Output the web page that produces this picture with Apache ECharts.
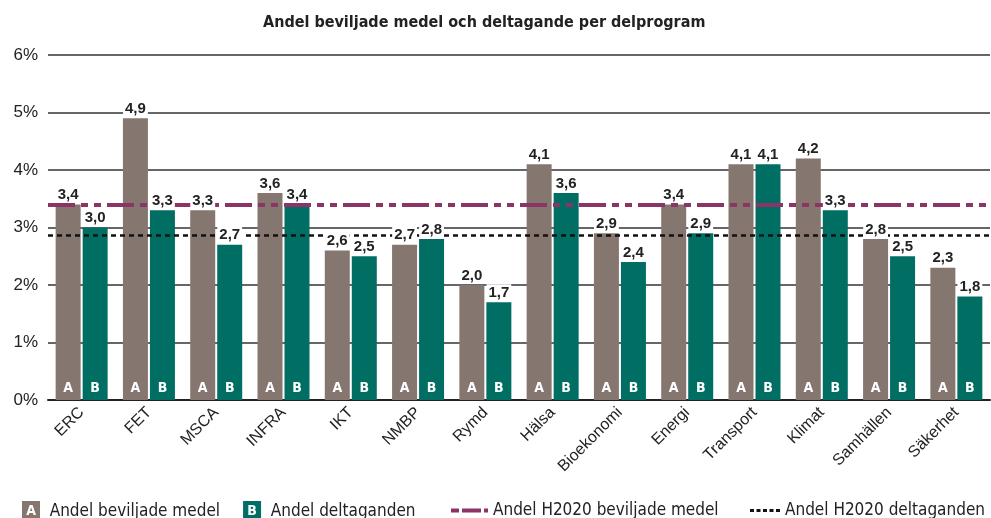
<!DOCTYPE html>
<html>
<head>
<meta charset="utf-8">
<script src="https://cdn.jsdelivr.net/npm/echarts@6/dist/echarts.min.js"></script>
<style>
  html, body { margin: 0; padding: 0; background: #fff; }
  #chart { width: 991px; height: 518px; }
</style>
</head>
<body>
<div id="chart"></div>
<script>
// delprogram
const categories = ["ERC", "FET", "MSCA", "INFRA", "IKT", "NMBP", "Rymd", "Hälsa", "Bioekonomi", "Energi", "Transport", "Klimat", "Samhällen", "Säkerhet"];
// A: andel beviljade medel (%)
const medel = [3.4, 4.9, 3.3, 3.6, 2.6, 2.7, 2.0, 4.1, 2.9, 3.4, 4.1, 4.2, 2.8, 2.3];
// B: andel deltaganden (%)
const deltaganden = [3.0, 3.3, 2.7, 3.4, 2.5, 2.8, 1.7, 3.6, 2.4, 2.9, 4.1, 3.3, 2.5, 1.8];
// H2020 reference levels
const h2020Medel = 3.39;
const h2020Deltaganden = 2.86;
const yTicks = [0, 1, 2, 3, 4, 5, 6];

const colA = "#857770";
const colB = "#006e63";
const colLine = "#8b3567";
const narrow = '"Liberation Sans Narrow", "DejaVu Sans Condensed", sans-serif';
const sans = '"Liberation Sans", Arial, sans-serif';

const chart = echarts.init(document.getElementById("chart"));

const fmt = (p) => p.value.toFixed(1).replace(".", ",");

function letterLabel(txt) {
  return {
    show: true,
    position: "insideBottom",
    distance: 5,
    formatter: txt,
    color: "#fff",
    fontFamily: narrow,
    fontWeight: "bold",
    fontSize: 14,
  };
}

const valueLabel = {
  show: true,
  position: "top",
  distance: 2,
  formatter: fmt,
  color: "#222",
  fontFamily: sans,
  fontWeight: "bold",
  fontSize: 15,
  backgroundColor: "#fff",
  padding: [1, 2, 0, 2],
};

const legendText = { fontFamily: narrow, fontSize: 17, color: "#222" };

const option = {
  animation: false,
  title: {
    text: "Andel beviljade medel och deltagande per delprogram",
    left: 258,
    top: 10,
    textStyle: { fontFamily: narrow, fontWeight: "bold", fontSize: 16, color: "#222" },
  },
  grid: { left: 48, right: 1, top: 55, bottom: 118 },
  legend: [
    {
      left: 12,
      top: 496,
      itemWidth: 0,
      itemHeight: 0,
      itemGap: 18,
      data: ["Andel beviljade medel", "Andel deltaganden"],
      formatter: (name) => (name === "Andel beviljade medel" ? "{a|A}" : "{b|B}") + "  " + name,
      textStyle: {
        ...legendText,
        rich: {
          a: { backgroundColor: colA, color: "#fff", width: 18, height: 21, align: "center", fontWeight: "bold", fontFamily: narrow, fontSize: 14 },
          b: { backgroundColor: colB, color: "#fff", width: 18, height: 21, align: "center", fontWeight: "bold", fontFamily: narrow, fontSize: 14 },
        },
      },
    },
    {
      left: 446,
      top: 497,
      itemWidth: 37,
      itemHeight: 4,
      icon: "path://M0,0H8V4H0Z M11,0H30V4H11Z M33,0H37V4H33Z",
      lineStyle: { width: 0 },
      data: ["Andel H2020 beviljade medel"],
      textStyle: legendText,
    },
    {
      left: 745,
      top: 497,
      itemWidth: 30,
      itemHeight: 3,
      icon: "path://M0,0H4V3H0Z M6.5,0H10.5V3H6.5Z M13,0H17V3H13Z M19.5,0H23.5V3H19.5Z M26,0H30V3H26Z",
      lineStyle: { width: 0 },
      data: ["Andel H2020 deltaganden"],
      textStyle: legendText,
    },
  ],
  xAxis: [
    {
      type: "category",
      data: categories,
      axisLine: { lineStyle: { color: "#222", width: 2 } },
      axisTick: { show: false },
      axisLabel: { rotate: 45, margin: 10, fontSize: 16, color: "#222", fontFamily: sans },
    },
    { type: "category", data: categories, show: false },
  ],
  yAxis: {
    type: "value",
    min: yTicks[0],
    max: yTicks[yTicks.length - 1],
    interval: 1,
    axisLine: { show: false },
    axisTick: { show: false },
    axisLabel: { formatter: "{value}%", fontSize: 17, color: "#222", fontFamily: sans, margin: 10 },
    splitLine: { lineStyle: { color: "#333", width: 1.5 } },
  },
  series: [
    {
      name: "Andel beviljade medel",
      type: "bar",
      data: medel,
      barWidth: 25,
      barGap: "8%",
      itemStyle: { color: colA },
      label: letterLabel("A"),
      z: 2,
    },
    {
      name: "Andel deltaganden",
      type: "bar",
      data: deltaganden,
      barWidth: 25,
      barGap: "8%",
      itemStyle: { color: colB },
      label: letterLabel("B"),
      z: 2,
    },
    {
      name: "Andel H2020 beviljade medel",
      type: "line",
      data: [],
      symbol: "none",
      itemStyle: { color: colLine },
      lineStyle: { color: colLine, width: 4, type: [27, 6, 7, 6, 7, 6] },
      markLine: {
        silent: true,
        symbol: "none",
        label: { show: false },
        lineStyle: { color: colLine, width: 4, type: [27, 6, 7, 6, 7, 6] },
        data: [{ yAxis: h2020Medel }],
        z: 3,
      },
      z: 3,
    },
    {
      name: "Andel H2020 deltaganden",
      type: "line",
      data: [],
      symbol: "none",
      itemStyle: { color: "#111" },
      lineStyle: { color: "#111", width: 2.5, type: [5, 4] },
      markLine: {
        silent: true,
        symbol: "none",
        label: { show: false },
        lineStyle: { color: "#111", width: 2.5, type: [5, 4] },
        data: [{ yAxis: h2020Deltaganden }],
        z: 3,
      },
      z: 3,
    },
    // transparent copies on a hidden axis, carrying the value labels above the lines
    {
      type: "bar",
      xAxisIndex: 1,
      data: medel,
      barWidth: 25,
      barGap: "8%",
      silent: true,
      itemStyle: { color: "rgba(0,0,0,0)" },
      label: valueLabel,
      z: 5,
    },
    {
      type: "bar",
      xAxisIndex: 1,
      data: deltaganden,
      barWidth: 25,
      barGap: "8%",
      silent: true,
      itemStyle: { color: "rgba(0,0,0,0)" },
      label: valueLabel,
      z: 5,
    },
  ],
};

chart.setOption(option);
</script>
</body>
</html>
